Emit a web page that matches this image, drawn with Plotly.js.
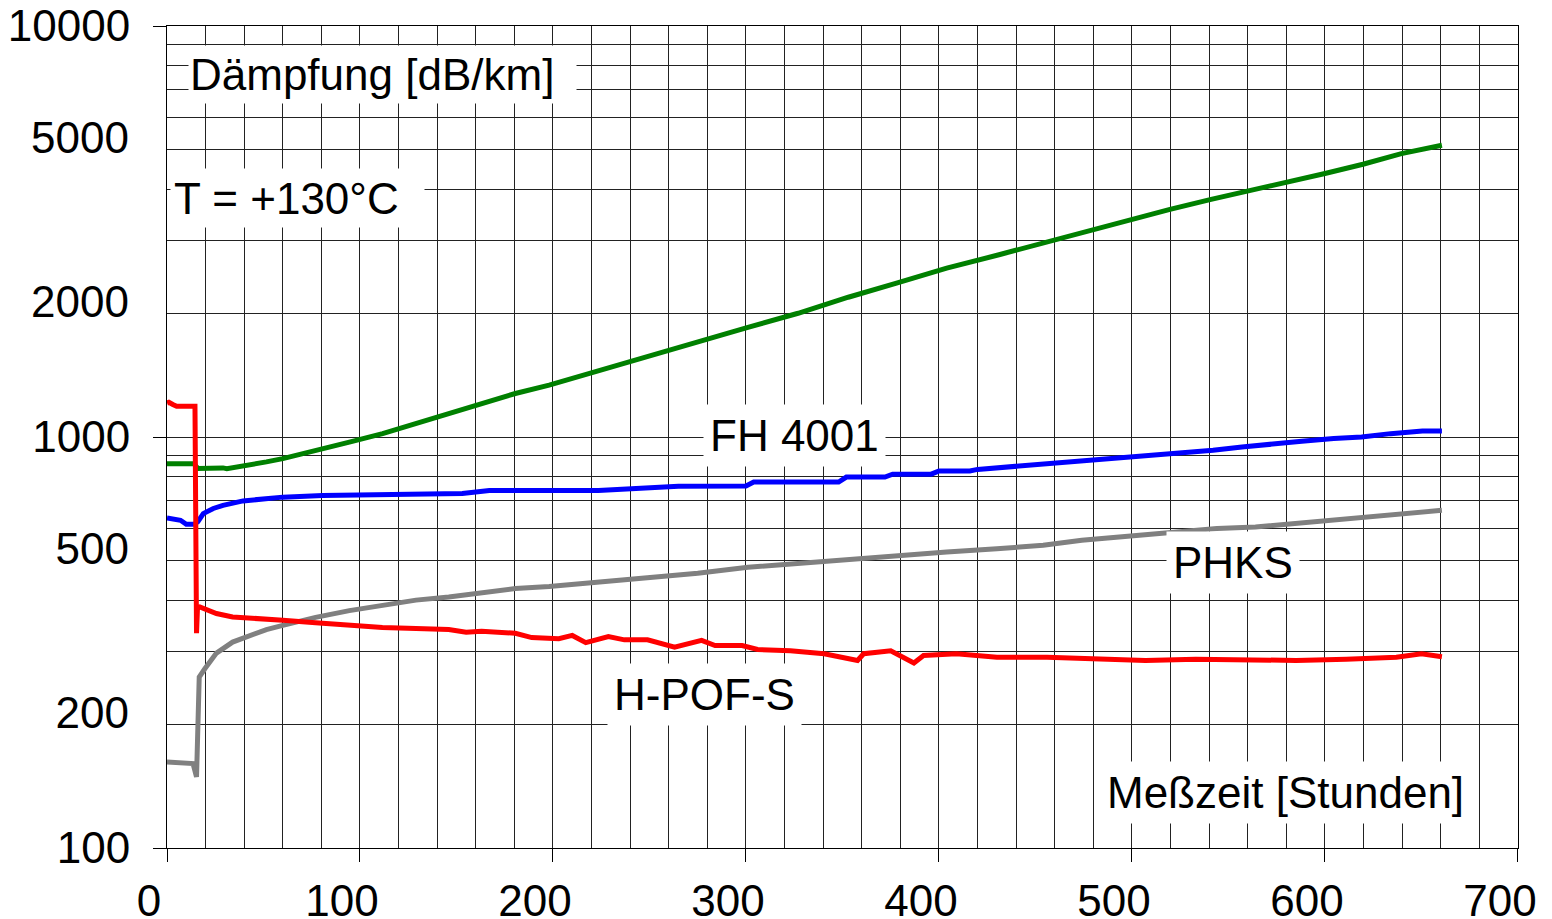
<!DOCTYPE html>
<html>
<head>
<meta charset="utf-8">
<script src="https://cdn.plot.ly/plotly-3.0.1.min.js"></script>
<style>html,body{margin:0;padding:0;background:#fff;}#chart{width:1552px;height:919px;}</style>
</head>
<body>
<div id="chart"></div>
<script>
const greenHours = [0, 2, 14, 16, 22, 29, 31, 43, 51.5, 60, 77, 94.5, 111.7, 129, 146, 163, 180.5, 198, 224, 249, 275, 301, 327, 353, 378, 404, 431.6, 460.2, 479.9, 499.6, 519.7, 541, 560.7, 580.4, 600, 619.7, 639.6, 660.6];
const greenValues = [861, 861, 861, 838, 841, 841, 837, 853, 870, 886, 925, 972, 1019, 1078, 1140, 1206, 1276, 1337, 1453, 1571, 1700, 1849, 2000, 2188, 2367, 2575, 2780, 3022, 3196, 3382, 3581, 3787, 3969, 4173, 4375, 4609, 4892, 5127];

const blueHours = [0, 7, 10, 14, 16, 18.8, 24, 29, 39.4, 51.5, 60, 80.6, 111.5, 153, 167, 223.5, 265, 300, 304, 348, 352, 372, 376, 396, 400, 416, 420, 435.6, 454, 470, 494, 527, 542, 557, 573, 588, 604.5, 619, 634, 650.5, 660.6];
const blueValues = [635, 627, 613, 613, 622, 651, 670, 682, 699, 708, 714, 721, 726, 729, 741, 741, 759, 760, 777, 777, 799, 799, 812, 812, 827, 827, 834, 845, 861, 869, 886, 911, 928, 946, 958, 976, 991, 1000, 1019, 1034, 1034];

const grayHours = [0, 13.5, 15.3, 16.7, 19.6, 25.6, 34, 43, 51.5, 60, 77, 94.5, 111.7, 129, 146, 163, 180.5, 198, 223.5, 249, 275, 301, 327, 353, 378, 404, 430, 454, 474, 492.5, 509, 527, 544, 564, 578.7, 595, 614, 639.5, 654, 660.6];
const grayValues = [162, 160.5, 149, 260.6, 273, 298, 317, 329, 340, 348, 364, 378, 390, 401, 408, 417, 428, 433, 444, 453, 466, 482, 493, 504, 515, 525, 535, 545, 561, 571, 579, 587, 599, 604, 613, 624, 633, 651, 663, 663];

const redHours = [0, 1, 3, 5, 13.5, 14.5, 15.3, 15.8, 17, 25.6, 34, 43, 60, 77, 94.5, 111.6, 129, 146, 155, 163, 180.5, 189, 203, 210, 217, 228.7, 237, 249, 263, 277, 284, 298, 306, 323, 340.5, 357.8, 361, 375, 387, 392, 409, 430, 456, 482, 507, 533, 559, 585, 611, 637, 650, 660.6];
const redValues = [1209, 1215, 1200, 1188, 1188, 1188, 333, 384, 386, 372, 365, 363, 358, 353, 348, 344, 342, 340, 335, 337, 333, 325, 323, 329, 316, 327, 321, 321, 308, 320, 311, 311, 304, 302, 297, 286, 297, 302, 282, 294, 297, 291, 291, 288, 286, 288, 286, 286, 288, 291, 297, 292];

const xTickVals = [0, 100, 200, 300, 400, 500, 600, 700];
const yDecadeVals = [100, 1000, 10000];
const yDecadeText = ['100', '1000', '10000'];
const yMidVals = [200, 500, 2000, 5000];
const yMidText = ['200', '500', '2000', '5000'];
const yMinorVals = [200, 300, 400, 500, 600, 700, 800, 900, 2000, 3000, 4000, 5000, 6000, 7000, 8000, 9000];

const labels = ['Dämpfung [dB/km]', 'T = +130°C', 'FH 4001', 'PHKS', 'H-POF-S', 'Meßzeit [Stunden]'];

const FONT = 'Arial, "Liberation Sans", sans-serif';
const FS = 44;

function line(x, y, color) {
  return {x: x, y: y, type: 'scatter', mode: 'lines', line: {color: color, width: 5}, hoverinfo: 'skip', showlegend: false};
}

const data = [
  line(greenHours, greenValues, '#008000'),
  line(blueHours, blueValues, '#0000ff'),
  line(grayHours, grayValues, '#808080'),
  line(redHours, redValues, '#ff0000'),
  {x: [], y: [], type: 'scatter', mode: 'lines', yaxis: 'y2', showlegend: false, hoverinfo: 'skip'}
];

function ann(text, x, y, opts) {
  return Object.assign({
    text: text, xref: 'paper', yref: 'paper', x: x, y: y,
    xanchor: 'center', yanchor: 'middle', showarrow: false,
    bgcolor: '#ffffff', borderpad: 6,
    font: {family: FONT, size: FS, color: '#000'}
  }, opts || {});
}

// plot area: x 167..1518, y 26..848
const L = 167, R = 1518, T = 26, B = 848;
const px = v => (v - L) / (R - L);
const py = v => (B - v) / (B - T);

const layout = {
  width: 1552, height: 919,
  margin: {l: L, r: 1552 - R, t: T, b: 919 - B},
  paper_bgcolor: '#fff', plot_bgcolor: '#fff',
  font: {family: FONT, size: FS, color: '#000'},
  showlegend: false,
  xaxis: {
    range: [0, 700.02], tickvals: xTickVals, ticks: 'outside', ticklen: 13, tickcolor: '#000', tickwidth: 1,
    showline: true, linecolor: '#000', linewidth: 1, mirror: true,
    showgrid: true, gridcolor: '#222', gridwidth: 1, zeroline: false,
    minor: {dtick: 20, showgrid: true, gridcolor: '#222', gridwidth: 1, ticks: ''},
    tickfont: {family: FONT, size: FS, color: '#000'}, ticklabelstandoff: 1, ticklabelshift: -18,
    ticklabeloverflow: 'allow'
  },
  yaxis: {
    type: 'log', range: [2, 4], tickmode: 'array', tickvals: yDecadeVals, ticktext: yDecadeText,
    ticks: 'outside', ticklen: 13, tickcolor: '#000', tickwidth: 1,
    showline: true, linecolor: '#000', linewidth: 1, mirror: true,
    showgrid: true, gridcolor: '#222', gridwidth: 1, zeroline: false,
    minor: {tickmode: 'array', tickvals: yMinorVals, showgrid: true, gridcolor: '#222', gridwidth: 1, ticks: ''},
    tickfont: {family: FONT, size: FS, color: '#000'}, ticklabelstandoff: 14, ticklabeloverflow: 'allow'
  },
  yaxis2: {
    type: 'log', range: [2, 4], overlaying: 'y', anchor: 'x', side: 'left',
    tickmode: 'array', tickvals: yMidVals, ticktext: yMidText,
    ticks: '', showgrid: false, zeroline: false, showline: false,
    tickfont: {family: FONT, size: FS, color: '#000'}, ticklabelstandoff: 37, ticklabelshift: -12,
    ticklabeloverflow: 'allow'
  },
  annotations: [
    ann(labels[0], px(188), py(74.5), {xanchor: 'left', width: 385, height: 55, align: 'left', borderpad: 1}),
    ann(labels[1], px(170), py(198), {xanchor: 'left', width: 247, height: 52, align: 'left', borderpad: 3}),
    ann(labels[2], px(794), py(435)),
    ann(labels[3], px(1233), py(563)),
    ann(labels[4], px(704), py(694)),
    ann(labels[5], px(1285), py(792))
  ]
};

Plotly.newPlot('chart', data, layout, {displayModeBar: false, staticPlot: true});
</script>
</body>
</html>
